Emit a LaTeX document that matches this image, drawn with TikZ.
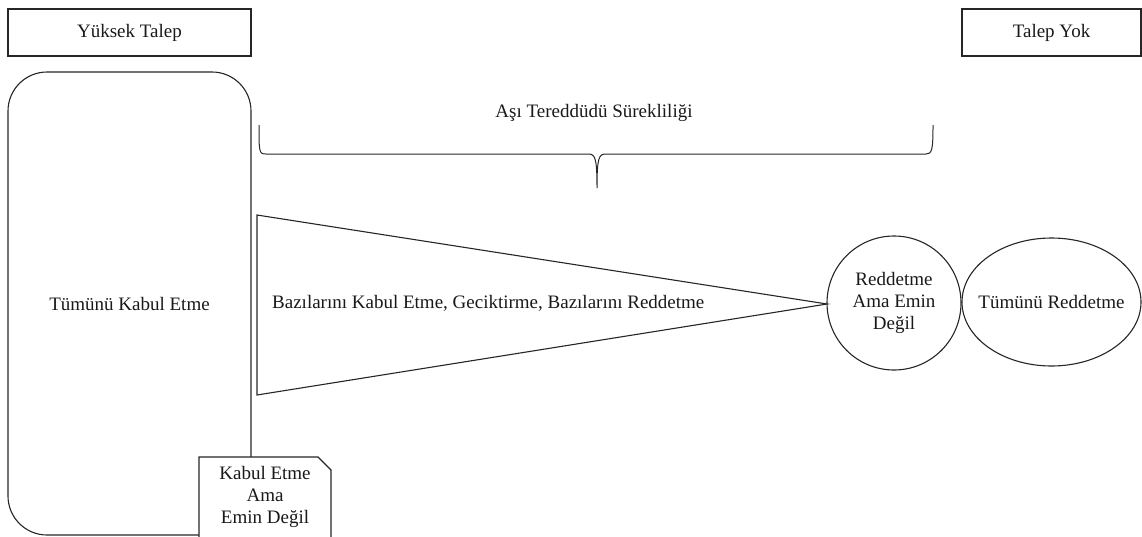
\documentclass[tikz,border=0pt]{standalone}
\usepackage{fontspec}
\setmainfont{Liberation Serif}
\usetikzlibrary{shapes.geometric}
\begin{document}
\begin{tikzpicture}[x=1pt,y=-1pt,
  every node/.style={font=\fontsize{19}{22}\selectfont, text=black!90},
  ln/.style={draw=black!85, line width=1.1pt},
  headbox/.style={ln, rectangle, inner sep=0pt, minimum height=47pt},
  txt/.style={align=center, inner sep=0pt}]
\useasboundingbox (0,0) rectangle (1142,536);
% header boxes
\node[headbox, minimum width=243pt] (yt) at (129.5,32.5) {Yüksek Talep};
\node[headbox, minimum width=179pt] (ty) at (1051.5,32.5) {Talep Yok};
% rounded rectangle
\node[ln, rectangle, rounded corners=39pt, minimum width=243pt, minimum height=463pt, inner sep=0pt] (all) at (129.5,303.5) {Tümünü Kabul Etme};
% note
\draw[ln, fill=white] (199,545) -- (199,457) -- (318,457) -- (331,470) -- (331,545);
\node[txt] (note) at (265,497) {Kabul Etme\\Ama\\Emin Değil};
% brace
\draw[ln, line width=1pt] (259,125) .. controls (259,152) and (259,154) .. (266,154) -- (588,154)
  .. controls (595,154) and (597,157) .. (597,188)
  .. controls (597,157) and (599,154) .. (606,154) -- (926,154)
  .. controls (932,154) and (933,150) .. (933,125);
\node[txt] (cont) at (594,113) {Aşı Tereddüdü Sürekliliği};
% triangle
\draw[ln] (257,215) -- (827,304) -- (257,395) -- cycle;
\node[txt, anchor=west] (some) at (272,303) {Bazılarını Kabul Etme, Geciktirme, Bazılarını Reddetme};
% circle
\node[ln, circle, minimum size=134pt, inner sep=0pt, align=center] (rej) at (894,303) {Reddetme\\Ama Emin\\Değil};
% ellipse
\node[ln, ellipse, minimum width=179pt, minimum height=128pt, inner sep=0pt] (allrej) at (1051.5,302) {};
\node[txt] (allrejtxt) at (allrej.center) {Tümünü Reddetme};
\end{tikzpicture}
\end{document}
